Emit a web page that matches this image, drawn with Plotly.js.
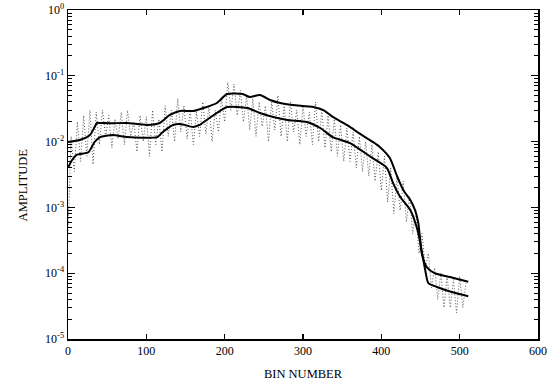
<!DOCTYPE html>
<html>
<head>
<meta charset="utf-8">
<script src="https://cdn.plot.ly/plotly-3.0.1.min.js"></script>
<style>html,body{margin:0;padding:0;background:#fff;}#chart{width:559px;height:389px;}</style>
</head>
<body>
<div id="chart"></div>
<script>
// Smoothed curve A
const binsA = [0,15,28,34,37,41,57,75,101,117,130,143,160,177,190,203,223,232,245,258,271,287,313,326,338,356,373,389,398,411,420,428,437,443,447,449,452,458,468,491,511];
const ampA = [0.0099,0.0106,0.0126,0.0166,0.0192,0.0192,0.0190,0.0192,0.0179,0.0192,0.0254,0.0292,0.0292,0.0336,0.0386,0.0528,0.0528,0.0476,0.0510,0.0429,0.0386,0.0360,0.0336,0.0302,0.0237,0.0179,0.0131,0.0099,0.0083,0.0056,0.0030,0.00184,0.00129,0.00091,0.00060,0.00038,0.00019,0.000124,0.000100,0.0000851,0.0000741];
// Smoothed curve B
const binsB = [0,5,11,26,34,41,57,75,96,114,121,134,143,160,168,177,190,203,229,245,262,280,305,322,338,360,377,389,407,415,424,437,446,449,456,460,471,491,511];
const ampB = [0.0040,0.0052,0.0063,0.0069,0.0099,0.0117,0.0126,0.0117,0.0114,0.0117,0.0140,0.0179,0.0185,0.0167,0.0179,0.0213,0.0272,0.0336,0.0324,0.0272,0.0237,0.0213,0.0199,0.0161,0.0117,0.0095,0.0070,0.0056,0.0040,0.00234,0.00145,0.00091,0.00046,0.00032,0.000112,0.0000708,0.0000617,0.0000513,0.0000447];
// Raw (unsmoothed) spectrum, dotted
const binsRaw = [0,4,8,12,16,20,24,28,32,36,40,44,48,52,56,60,64,68,72,76,80,84,88,92,96,100,104,108,112,116,120,124,128,132,136,140,144,148,152,156,160,164,168,172,176,180,184,188,192,196,200,204,208,212,216,220,224,228,232,236,240,244,248,252,256,260,264,268,272,276,280,284,288,292,296,300,304,308,312,316,320,324,328,332,336,340,344,348,352,356,360,364,368,372,376,380,384,388,392,396,400,404,408,412,416,420,424,428,432,436,440,444,448,452,456,460,464,468,472,476,480,484,488,492,496,500,504,508];
const ampRaw = [0.0004,0.012,0.0035,0.02,0.005,0.025,0.006,0.03,0.0045,0.028,0.009,0.03,0.012,0.025,0.008,0.022,0.011,0.028,0.009,0.03,0.012,0.02,0.007,0.025,0.01,0.024,0.006,0.03,0.009,0.022,0.007,0.035,0.012,0.03,0.01,0.045,0.014,0.035,0.011,0.03,0.009,0.028,0.012,0.04,0.013,0.035,0.01,0.03,0.014,0.045,0.02,0.08,0.03,0.075,0.025,0.06,0.02,0.05,0.015,0.045,0.012,0.04,0.017,0.035,0.01,0.04,0.015,0.05,0.012,0.035,0.01,0.04,0.014,0.03,0.009,0.035,0.012,0.028,0.009,0.04,0.01,0.03,0.008,0.025,0.007,0.022,0.006,0.018,0.005,0.016,0.005,0.014,0.004,0.012,0.0035,0.01,0.003,0.009,0.0025,0.007,0.0018,0.006,0.0012,0.004,0.0008,0.003,0.0009,0.0025,0.0006,0.0015,0.0004,0.0009,0.0002,0.0004,0.00012,0.0002,0.00006,0.00012,0.00004,0.0001,0.00003,0.00009,0.00003,0.00008,0.000025,0.00009,0.00003,0.00007];
const xTicks = [0,100,200,300,400,500,600];
const yTickVals = [1,0.1,0.01,0.001,0.0001,0.00001];
const yTickText = ['10<sup>0</sup>','10<sup>-1</sup>','10<sup>-2</sup>','10<sup>-3</sup>','10<sup>-4</sup>','10<sup>-5</sup>'];
const minorMantissa = [2,3,4,5,6,7,8,9];

const minorVals = [];
yTickVals.slice(1).forEach(d => minorMantissa.forEach(m => minorVals.push(d * m)));

const font = "Liberation Serif, Times New Roman, serif";
const traces = [
  {x: binsRaw, y: ampRaw, mode: 'lines', line: {color: '#444', width: 0.9, dash: '1px,2px'}, hoverinfo: 'skip'},
  {x: binsA, y: ampA, mode: 'lines', line: {color: '#000', width: 2, shape: 'spline', smoothing: 0.6}},
  {x: binsB, y: ampB, mode: 'lines', line: {color: '#000', width: 2, shape: 'spline', smoothing: 0.6}}
];
const layout = {
  width: 559, height: 389,
  margin: {l: 68, r: 21, t: 10, b: 50},
  paper_bgcolor: '#fff', plot_bgcolor: '#fff',
  showlegend: false,
  font: {family: font, color: '#000', size: 12},
  xaxis: {
    range: [0, 600], tickmode: 'array', tickvals: xTicks, ticktext: xTicks.map(String),
    ticks: 'inside', ticklen: 5, tickwidth: 1.3, tickcolor: 'black',
    showline: true, linecolor: 'black', linewidth: 1.5, mirror: 'allticks',
    showgrid: false, zeroline: false,
    tickfont: {family: font, size: 12},
    title: {text: 'BIN NUMBER', font: {family: font, size: 12.5}, standoff: 12}
  },
  yaxis: {
    type: 'log', range: [-5, 0],
    tickmode: 'array', tickvals: yTickVals, ticktext: yTickText,
    ticks: 'inside', ticklen: 7, tickwidth: 1.3, tickcolor: 'black',
    minor: {tickmode: 'array', tickvals: minorVals, ticks: 'inside', ticklen: 4, tickwidth: 1, tickcolor: 'black', showgrid: false},
    showline: true, linecolor: 'black', linewidth: 1.5, mirror: 'allticks',
    showgrid: false, zeroline: false,
    tickfont: {family: font, size: 12}
  },
  annotations: [{
    text: 'AMPLITUDE', textangle: -90, showarrow: false,
    xref: 'paper', yref: 'paper', x: -0.095, y: 0.468,
    xanchor: 'center', yanchor: 'middle',
    font: {family: font, size: 12.5}
  }]
};
Plotly.newPlot('chart', traces, layout, {displayModeBar: false, staticPlot: true});
</script>
</body>
</html>
